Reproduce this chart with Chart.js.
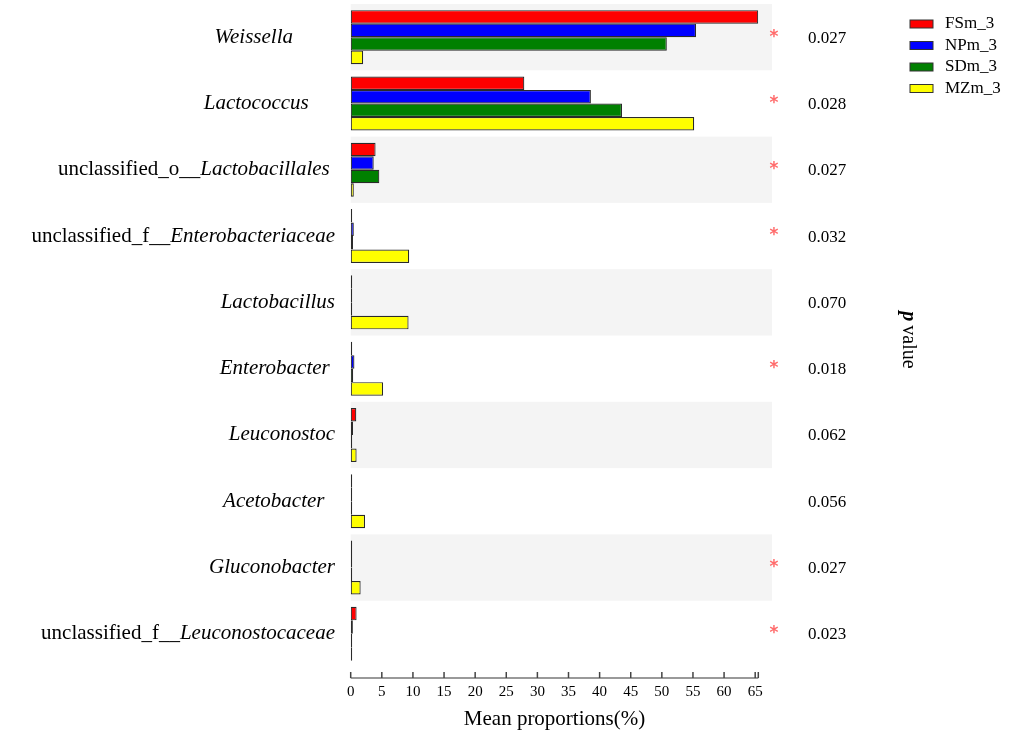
<!DOCTYPE html>
<html>
<head>
<meta charset="utf-8">
<script src="https://cdn.jsdelivr.net/npm/chart.js@4"></script>
<style>
  html, body { margin: 0; padding: 0; background: #fff; }
  canvas { display: block; }
</style>
</head>
<body>
<canvas id="chart" width="1016" height="735"></canvas>
<script>
// genus labels; text after "__" is italic
const categories = [
    "Weissella        ",
    "Lactococcus     ",
    "unclassified_o__Lactobacillales ",
    "unclassified_f__Enterobacteriaceae",
    "Lactobacillus",
    "Enterobacter ",
    "Leuconostoc",
    "Acetobacter  ",
    "Gluconobacter",
    "unclassified_f__Leuconostocaceae"
];
const groups = ["FSm_3", "NPm_3", "SDm_3", "MZm_3"];
const colors = ["#ff0000", "#0000ff", "#008000", "#ffff00"];

const fsm = [65.5, 27.9, 4.0, 0.2, 0.1, 0.1, 0.9, 0.02, 0.02, 0.95];
const npm = [55.5, 38.6, 3.7, 0.5, 0.05, 0.6, 0.37, 0.02, 0.02, 0.35];
const sdm = [50.8, 43.6, 4.6, 0.37, 0.05, 0.4, 0.05, 0.02, 0.02, 0.02];
const mzm = [2.0, 55.2, 0.5, 9.4, 9.3, 5.2, 0.95, 2.3, 1.6, 0.02];

const pValues = ["0.027", "0.028", "0.027", "0.032", "0.070", "0.018", "0.062", "0.056", "0.027", "0.023"];

const xTicks = [0, 5, 10, 15, 20, 25, 30, 35, 40, 45, 50, 55, 60, 65];
const xMax = 65.5;
const serif = "'Liberation Serif', 'Times New Roman', serif";

const sideDecor = {
    id: "sideDecor",
    beforeDatasetsDraw(chart) {
        const { ctx, chartArea, scales: { y } } = chart;
        const half = (y.getPixelForValue(1) - y.getPixelForValue(0)) / 2;
        ctx.save();
        ctx.fillStyle = "#f4f4f4";
        categories.forEach((c, i) => {
            if (i % 2 === 0) {
                const yc = y.getPixelForValue(i);
                ctx.fillRect(chartArea.left, yc - half, 772 - chartArea.left, half * 2);
            }
        });
        ctx.restore();
    },
    afterDraw(chart) {
        const { ctx, chartArea, scales: { x, y } } = chart;
        ctx.save();

        // x axis line with upward ticks
        const axisY = chartArea.bottom + 11;
        ctx.strokeStyle = "#999";
        ctx.lineWidth = 2;
        ctx.beginPath();
        ctx.moveTo(x.getPixelForValue(0), axisY);
        ctx.lineTo(x.getPixelForValue(xMax), axisY);
        ctx.stroke();
        ctx.strokeStyle = "#444";
        ctx.lineWidth = 1.5;
        x.ticks.forEach(t => {
            const px = x.getPixelForValue(t.value);
            ctx.beginPath();
            ctx.moveTo(px, axisY);
            ctx.lineTo(px, axisY - 6);
            ctx.stroke();
        });

        // category labels
        ctx.fillStyle = "#000";
        ctx.textBaseline = "middle";
        const labelRight = 335;
        categories.forEach((c, i) => {
            const yc = y.getPixelForValue(i);
            const cut = c.indexOf("__");
            const plain = cut >= 0 ? c.slice(0, cut + 2) : "";
            const ital = cut >= 0 ? c.slice(cut + 2) : c;
            ctx.font = "italic 21px " + serif;
            const wI = ctx.measureText(ital).width;
            ctx.textAlign = "left";
            ctx.fillText(ital, labelRight - wI, yc);
            if (plain) {
                ctx.font = "21px " + serif;
                const wP = ctx.measureText(plain).width;
                ctx.fillText(plain, labelRight - wI - wP, yc);
            }
        });

        // significance stars and p-values
        pValues.forEach((p, i) => {
            const yc = y.getPixelForValue(i);
            if (parseFloat(p) < 0.05) {
                ctx.fillStyle = "#ff6b6b";
                ctx.font = "bold 17px 'DejaVu Sans', sans-serif";
                ctx.textAlign = "center";
                ctx.fillText("*", 774, yc);
            }
            ctx.fillStyle = "#000";
            ctx.font = "17px " + serif;
            ctx.textAlign = "center";
            ctx.fillText(p, 827, yc + 1);
        });

        // p value title, rotated
        ctx.save();
        ctx.translate(908, 340);
        ctx.rotate(Math.PI / 2);
        ctx.textAlign = "left";
        ctx.textBaseline = "middle";
        ctx.font = "bold italic 20px " + serif;
        const wp = ctx.measureText("p").width;
        ctx.font = "20px " + serif;
        const wv = ctx.measureText("value").width;
        const start = -(wp + 4 + wv) / 2;
        ctx.font = "bold italic 20px " + serif;
        ctx.fillText("p", start, 0);
        ctx.font = "20px " + serif;
        ctx.fillText("value", start + wp + 4, 0);
        ctx.restore();

        // legend
        ctx.font = "17px " + serif;
        ctx.textAlign = "left";
        ctx.textBaseline = "middle";
        chart.data.datasets.forEach((ds, i) => {
            const ly = 24 + i * 21.5;
            ctx.fillStyle = ds.backgroundColor;
            ctx.fillRect(910, ly - 4, 23, 8);
            ctx.strokeStyle = "#333";
            ctx.lineWidth = 1;
            ctx.strokeRect(910, ly - 4, 23, 8);
            ctx.fillStyle = "#000";
            ctx.fillText(ds.label, 945, ly);
        });

        ctx.restore();
    }
};

new Chart(document.getElementById("chart"), {
    type: "bar",
    data: {
        labels: categories,
        datasets: [fsm, npm, sdm, mzm].map((vals, i) => ({
            label: groups[i],
            data: vals,
            backgroundColor: colors[i],
            borderColor: "#2a2a2a",
            borderWidth: 1.2,
            borderSkipped: false,
            minBarLength: 1.5,
            categoryPercentage: 0.815,
            barPercentage: 1
        }))
    },
    options: {
        indexAxis: "y",
        responsive: false,
        animation: false,
        layout: {
            padding: { left: 350.7, right: 257.7, top: 4, bottom: 0 }
        },
        scales: {
            x: {
                min: 0,
                max: xMax,
                grid: { display: false, drawTicks: false },
                border: { display: false },
                afterBuildTicks: scale => {
                    scale.ticks = xTicks.concat([xMax]).map(v => ({ value: v }));
                },
                afterFit: scale => {
                    scale.height = 68;
                },
                ticks: {
                    padding: 16,
                    color: "#000",
                    font: { family: serif, size: 15 },
                    callback: v => (xTicks.includes(v) ? v : "")
                },
                title: {
                    display: true,
                    text: "Mean proportions(%)",
                    color: "#000",
                    font: { family: serif, size: 21 },
                    padding: { top: 5, bottom: 3 }
                }
            },
            y: {
                display: false
            }
        },
        plugins: {
            legend: { display: false },
            tooltip: { enabled: false }
        }
    },
    plugins: [sideDecor]
});
</script>
</body>
</html>
